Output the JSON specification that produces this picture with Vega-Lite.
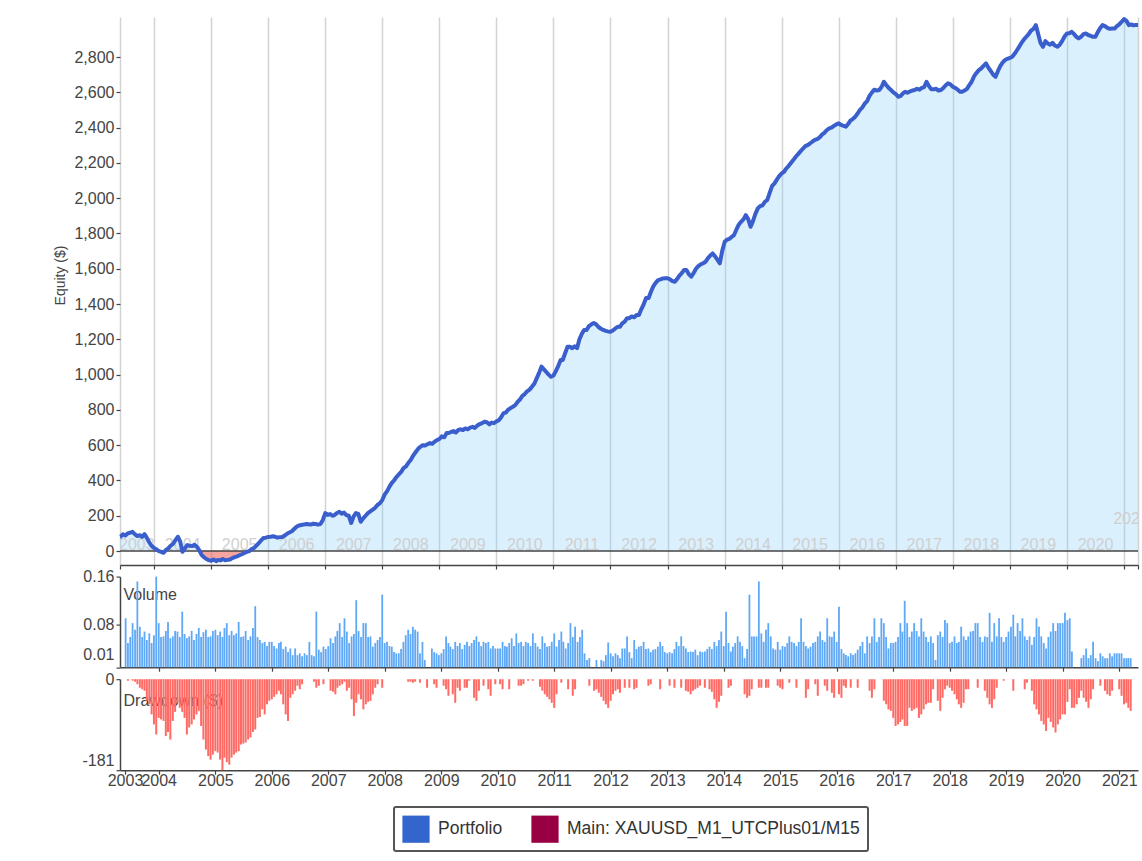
{
"$schema": "https://vega.github.io/schema/vega-lite/v6.json",
"padding": {"left": 53, "top": 17, "right": 4, "bottom": 4},
"background": "white",
"spacing": 11.6,
"bounds": "flush",
"config": {
 "font": "Liberation Sans",
 "view": {"stroke": null},
 "axis": {"labelFont": "Liberation Sans", "labelFontSize": 16, "labelColor": "#444444", "titleFont": "Liberation Sans", "titleColor": "#444444", "titleFontWeight": "normal", "tickColor": "#444444", "domainColor": "#444444", "domainWidth": 1.5, "tickWidth": 1.2, "tickSize": 4, "labelPadding": 2, "grid": false, "labelOverlap": false},
 "legend": {"strokeWidth": 2}
},
"datasets": {
"yl": [
{"d":"2003-09-13","t":"2003"},{"d":"2004-07-02","t":"2004"},{"d":"2005-07-02","t":"2005"},{"d":"2006-07-02","t":"2006"},{"d":"2007-07-02","t":"2007"},{"d":"2008-07-02","t":"2008"},{"d":"2009-07-02","t":"2009"},{"d":"2010-07-02","t":"2010"},{"d":"2011-07-02","t":"2011"},{"d":"2012-07-02","t":"2012"},{"d":"2013-07-02","t":"2013"},{"d":"2014-07-02","t":"2014"},{"d":"2015-07-02","t":"2015"},{"d":"2016-07-02","t":"2016"},{"d":"2017-07-02","t":"2017"},{"d":"2018-07-02","t":"2018"},{"d":"2019-07-02","t":"2019"},{"d":"2020-07-02","t":"2020"},{"d":"2021-02-14","t":"2021"}
],
"s": [
{"d":"2003-05-28","e":81,"v":null,"dd":null},
{"d":"2003-06-01","e":82,"v":0.091,"dd":null},
{"d":"2003-06-16","e":95,"v":0.05,"dd":-3},
{"d":"2003-07-01","e":88,"v":0.06,"dd":null},
{"d":"2003-07-16","e":100,"v":0.083,"dd":-3},
{"d":"2003-08-01","e":104,"v":0.072,"dd":-5},
{"d":"2003-08-16","e":109,"v":0.152,"dd":-10},
{"d":"2003-09-01","e":95,"v":0.077,"dd":-17},
{"d":"2003-09-16","e":85,"v":0.06,"dd":-20},
{"d":"2003-10-01","e":90,"v":0.069,"dd":-23},
{"d":"2003-10-16","e":80,"v":0.055,"dd":-43},
{"d":"2003-11-01","e":96,"v":0.066,"dd":-50},
{"d":"2003-11-16","e":75,"v":0.05,"dd":-70},
{"d":"2003-12-01","e":50,"v":0.063,"dd":-90},
{"d":"2003-12-16","e":30,"v":0.16,"dd":-110},
{"d":"2004-01-01","e":17,"v":0.083,"dd":-77},
{"d":"2004-01-16","e":10,"v":0.06,"dd":-80},
{"d":"2004-02-01","e":0,"v":0.061,"dd":-83},
{"d":"2004-02-16","e":-5,"v":0.07,"dd":-113},
{"d":"2004-03-01","e":-10,"v":0.085,"dd":-105},
{"d":"2004-03-16","e":5,"v":0.058,"dd":-120},
{"d":"2004-04-01","e":15,"v":0.061,"dd":-83},
{"d":"2004-04-16","e":30,"v":0.07,"dd":-65},
{"d":"2004-05-01","e":40,"v":0.069,"dd":-47},
{"d":"2004-05-16","e":60,"v":0.06,"dd":-57},
{"d":"2004-06-01","e":81,"v":0.102,"dd":-65},
{"d":"2004-06-16","e":55,"v":0.065,"dd":-77},
{"d":"2004-07-01","e":-4,"v":0.058,"dd":-110},
{"d":"2004-07-16","e":15,"v":0.061,"dd":-96},
{"d":"2004-08-01","e":34,"v":0.07,"dd":-90},
{"d":"2004-08-16","e":30,"v":0.055,"dd":-80},
{"d":"2004-09-01","e":28,"v":0.065,"dd":-70},
{"d":"2004-09-16","e":35,"v":0.075,"dd":-63},
{"d":"2004-10-01","e":24,"v":0.06,"dd":-93},
{"d":"2004-10-16","e":5,"v":0.068,"dd":-120},
{"d":"2004-11-01","e":-23,"v":0.072,"dd":-140},
{"d":"2004-11-16","e":-35,"v":0.06,"dd":-153},
{"d":"2004-12-01","e":-45,"v":0.061,"dd":-160},
{"d":"2004-12-16","e":-51,"v":0.07,"dd":-150},
{"d":"2005-01-01","e":-55,"v":0.072,"dd":-143},
{"d":"2005-01-16","e":-48,"v":0.063,"dd":-146},
{"d":"2005-02-01","e":-57,"v":0.069,"dd":-160},
{"d":"2005-02-16","e":-50,"v":0.06,"dd":-181},
{"d":"2005-03-01","e":-53,"v":0.075,"dd":-156},
{"d":"2005-03-16","e":-45,"v":0.083,"dd":-165},
{"d":"2005-04-01","e":-52,"v":0.063,"dd":-170},
{"d":"2005-04-16","e":-50,"v":0.07,"dd":-156},
{"d":"2005-05-01","e":-48,"v":0.063,"dd":-150},
{"d":"2005-05-16","e":-40,"v":0.066,"dd":-146},
{"d":"2005-06-01","e":-34,"v":0.085,"dd":-143},
{"d":"2005-06-16","e":-30,"v":0.06,"dd":-130},
{"d":"2005-07-01","e":-24,"v":0.061,"dd":-128},
{"d":"2005-07-16","e":-18,"v":0.07,"dd":-126},
{"d":"2005-08-01","e":-11,"v":0.055,"dd":-120},
{"d":"2005-08-16","e":-5,"v":0.061,"dd":-116},
{"d":"2005-09-01","e":0,"v":0.075,"dd":-105},
{"d":"2005-09-16","e":10,"v":0.111,"dd":-100},
{"d":"2005-10-01","e":17,"v":0.06,"dd":-77},
{"d":"2005-10-16","e":30,"v":0.055,"dd":-75},
{"d":"2005-11-01","e":45,"v":0.05,"dd":-60},
{"d":"2005-11-16","e":60,"v":0.052,"dd":-70},
{"d":"2005-12-01","e":74,"v":0.045,"dd":-50},
{"d":"2005-12-16","e":76,"v":0.052,"dd":-43},
{"d":"2006-01-01","e":80,"v":0.052,"dd":-40},
{"d":"2006-01-16","e":81,"v":0.045,"dd":-35},
{"d":"2006-02-01","e":84,"v":0.041,"dd":-30},
{"d":"2006-02-16","e":80,"v":0.05,"dd":-23},
{"d":"2006-03-01","e":76,"v":0.052,"dd":-30},
{"d":"2006-03-16","e":79,"v":0.04,"dd":-50},
{"d":"2006-04-01","e":80,"v":0.044,"dd":-70},
{"d":"2006-04-16","e":88,"v":0.035,"dd":-83},
{"d":"2006-05-01","e":98,"v":0.041,"dd":-37},
{"d":"2006-05-16","e":105,"v":0.03,"dd":-30},
{"d":"2006-06-01","e":112,"v":0.041,"dd":-23},
{"d":"2006-06-16","e":125,"v":0.03,"dd":-13},
{"d":"2006-07-01","e":138,"v":0.033,"dd":-20},
{"d":"2006-07-16","e":145,"v":0.028,"dd":-10},
{"d":"2006-08-01","e":148,"v":0.033,"dd":null},
{"d":"2006-08-16","e":150,"v":0.03,"dd":null},
{"d":"2006-09-01","e":153,"v":0.052,"dd":null},
{"d":"2006-09-16","e":152,"v":0.03,"dd":null},
{"d":"2006-10-01","e":150,"v":0.028,"dd":-5},
{"d":"2006-10-16","e":155,"v":0.102,"dd":-17},
{"d":"2006-11-01","e":153,"v":0.039,"dd":-13},
{"d":"2006-11-16","e":150,"v":0.035,"dd":null},
{"d":"2006-12-01","e":153,"v":0.044,"dd":-10},
{"d":"2006-12-16","e":175,"v":0.04,"dd":null},
{"d":"2007-01-01","e":215,"v":0.045,"dd":null},
{"d":"2007-01-16","e":205,"v":0.058,"dd":-23},
{"d":"2007-02-01","e":210,"v":0.05,"dd":-25},
{"d":"2007-02-16","e":200,"v":0.061,"dd":-30},
{"d":"2007-03-01","e":204,"v":0.07,"dd":-17},
{"d":"2007-03-16","e":215,"v":0.083,"dd":-13},
{"d":"2007-04-01","e":223,"v":0.06,"dd":-10},
{"d":"2007-04-16","e":212,"v":0.091,"dd":-5},
{"d":"2007-05-01","e":218,"v":0.069,"dd":-23},
{"d":"2007-05-16","e":204,"v":0.05,"dd":-17},
{"d":"2007-06-01","e":200,"v":0.061,"dd":-40},
{"d":"2007-06-16","e":159,"v":0.065,"dd":-73},
{"d":"2007-07-01","e":195,"v":0.121,"dd":-47},
{"d":"2007-07-16","e":215,"v":0.07,"dd":-30},
{"d":"2007-08-01","e":210,"v":0.06,"dd":-40},
{"d":"2007-08-16","e":166,"v":0.083,"dd":-60},
{"d":"2007-09-01","e":185,"v":0.083,"dd":-50},
{"d":"2007-09-16","e":200,"v":0.06,"dd":-45},
{"d":"2007-10-01","e":215,"v":0.061,"dd":-43},
{"d":"2007-10-16","e":225,"v":0.044,"dd":-30},
{"d":"2007-11-01","e":235,"v":0.05,"dd":-17},
{"d":"2007-11-16","e":245,"v":0.055,"dd":-10},
{"d":"2007-12-01","e":261,"v":0.06,"dd":null},
{"d":"2007-12-16","e":270,"v":0.13,"dd":-17},
{"d":"2008-01-01","e":289,"v":0.05,"dd":null},
{"d":"2008-01-16","e":320,"v":0.052,"dd":null},
{"d":"2008-02-01","e":340,"v":0.045,"dd":null},
{"d":"2008-02-16","e":365,"v":0.044,"dd":null},
{"d":"2008-03-01","e":385,"v":0.035,"dd":null},
{"d":"2008-03-16","e":400,"v":0.033,"dd":null},
{"d":"2008-04-01","e":420,"v":0.033,"dd":null},
{"d":"2008-04-16","e":435,"v":0.04,"dd":null},
{"d":"2008-05-01","e":449,"v":0.052,"dd":null},
{"d":"2008-05-16","e":470,"v":0.063,"dd":null},
{"d":"2008-06-01","e":480,"v":0.072,"dd":-5},
{"d":"2008-06-16","e":500,"v":0.065,"dd":-5},
{"d":"2008-07-01","e":516,"v":0.077,"dd":-7},
{"d":"2008-07-16","e":540,"v":0.072,"dd":-5},
{"d":"2008-08-01","e":560,"v":0.069,"dd":null},
{"d":"2008-08-16","e":578,"v":0.033,"dd":-7},
{"d":"2008-09-01","e":591,"v":0.052,"dd":null},
{"d":"2008-09-16","e":600,"v":0.022,"dd":null},
{"d":"2008-10-01","e":598,"v":null,"dd":-17},
{"d":"2008-10-16","e":605,"v":null,"dd":null},
{"d":"2008-11-01","e":612,"v":0.041,"dd":null},
{"d":"2008-11-16","e":608,"v":0.035,"dd":-10},
{"d":"2008-12-01","e":620,"v":0.033,"dd":-17},
{"d":"2008-12-16","e":629,"v":0.03,"dd":null},
{"d":"2009-01-01","e":635,"v":0.033,"dd":null},
{"d":"2009-01-16","e":650,"v":0.04,"dd":-13},
{"d":"2009-02-01","e":645,"v":0.061,"dd":-20},
{"d":"2009-02-16","e":669,"v":0.05,"dd":-33},
{"d":"2009-03-01","e":669,"v":0.044,"dd":null},
{"d":"2009-03-16","e":675,"v":0.04,"dd":-30},
{"d":"2009-04-01","e":680,"v":0.052,"dd":-47},
{"d":"2009-04-16","e":672,"v":0.045,"dd":-17},
{"d":"2009-05-01","e":686,"v":0.05,"dd":-23},
{"d":"2009-05-16","e":690,"v":0.04,"dd":null},
{"d":"2009-06-01","e":686,"v":0.047,"dd":-17},
{"d":"2009-06-16","e":695,"v":0.052,"dd":-17},
{"d":"2009-07-01","e":690,"v":0.045,"dd":-3},
{"d":"2009-07-16","e":700,"v":0.05,"dd":null},
{"d":"2009-08-01","e":704,"v":0.055,"dd":-37},
{"d":"2009-08-16","e":698,"v":0.061,"dd":-43},
{"d":"2009-09-01","e":712,"v":0.052,"dd":-23},
{"d":"2009-09-16","e":720,"v":0.045,"dd":null},
{"d":"2009-10-01","e":725,"v":0.052,"dd":-13},
{"d":"2009-10-16","e":733,"v":0.05,"dd":null},
{"d":"2009-11-01","e":730,"v":0.052,"dd":-20},
{"d":"2009-11-16","e":718,"v":0.041,"dd":-33},
{"d":"2009-12-01","e":728,"v":0.045,"dd":null},
{"d":"2009-12-16","e":725,"v":0.041,"dd":-10},
{"d":"2010-01-01","e":735,"v":0.041,"dd":null},
{"d":"2010-01-16","e":742,"v":0.041,"dd":-10},
{"d":"2010-02-01","e":760,"v":0.052,"dd":-20},
{"d":"2010-02-16","e":782,"v":0.045,"dd":null},
{"d":"2010-03-01","e":785,"v":0.044,"dd":null},
{"d":"2010-03-16","e":800,"v":0.05,"dd":-20},
{"d":"2010-04-01","e":810,"v":0.058,"dd":null},
{"d":"2010-04-16","e":818,"v":0.045,"dd":null},
{"d":"2010-05-01","e":827,"v":0.066,"dd":null},
{"d":"2010-05-16","e":845,"v":0.05,"dd":-13},
{"d":"2010-06-01","e":860,"v":0.052,"dd":-13},
{"d":"2010-06-16","e":880,"v":0.045,"dd":-10},
{"d":"2010-07-01","e":890,"v":0.052,"dd":null},
{"d":"2010-07-16","e":905,"v":0.05,"dd":-3},
{"d":"2010-08-01","e":915,"v":0.045,"dd":null},
{"d":"2010-08-16","e":931,"v":0.066,"dd":-3},
{"d":"2010-09-01","e":950,"v":0.05,"dd":null},
{"d":"2010-09-16","e":980,"v":0.044,"dd":null},
{"d":"2010-10-01","e":1010,"v":0.04,"dd":-15},
{"d":"2010-10-16","e":1045,"v":0.061,"dd":-23},
{"d":"2010-11-01","e":1030,"v":0.05,"dd":-30},
{"d":"2010-11-16","e":1015,"v":0.044,"dd":-35},
{"d":"2010-12-01","e":1000,"v":0.045,"dd":-40},
{"d":"2010-12-16","e":988,"v":0.052,"dd":-47},
{"d":"2011-01-01","e":995,"v":0.066,"dd":-57},
{"d":"2011-01-16","e":1020,"v":0.044,"dd":-30},
{"d":"2011-02-01","e":1050,"v":0.055,"dd":null},
{"d":"2011-02-16","e":1083,"v":0.069,"dd":-7},
{"d":"2011-03-01","e":1083,"v":0.052,"dd":null},
{"d":"2011-03-16","e":1120,"v":0.041,"dd":null},
{"d":"2011-04-01","e":1158,"v":0.05,"dd":-20},
{"d":"2011-04-16","e":1158,"v":0.083,"dd":null},
{"d":"2011-05-01","e":1150,"v":0.06,"dd":-33},
{"d":"2011-05-16","e":1160,"v":0.077,"dd":-20},
{"d":"2011-06-01","e":1150,"v":0.052,"dd":null},
{"d":"2011-06-16","e":1200,"v":0.06,"dd":null},
{"d":"2011-07-01","e":1230,"v":0.072,"dd":null},
{"d":"2011-07-16","e":1253,"v":0.033,"dd":null},
{"d":"2011-08-01","e":1253,"v":0.022,"dd":null},
{"d":"2011-08-16","e":1275,"v":0.025,"dd":-13},
{"d":"2011-09-01","e":1285,"v":null,"dd":null},
{"d":"2011-09-16","e":1292,"v":null,"dd":-23},
{"d":"2011-10-01","e":1285,"v":0.022,"dd":-20},
{"d":"2011-10-16","e":1270,"v":null,"dd":-27},
{"d":"2011-11-01","e":1260,"v":0.022,"dd":-35},
{"d":"2011-11-16","e":1253,"v":0.02,"dd":-43},
{"d":"2011-12-01","e":1248,"v":0.03,"dd":-50},
{"d":"2011-12-16","e":1245,"v":0.051,"dd":-57},
{"d":"2012-01-01","e":1243,"v":0.033,"dd":-43},
{"d":"2012-01-16","e":1250,"v":0.028,"dd":-30},
{"d":"2012-02-01","e":1262,"v":0.033,"dd":-23},
{"d":"2012-02-16","e":1271,"v":0.03,"dd":-20},
{"d":"2012-03-01","e":1271,"v":0.025,"dd":-27},
{"d":"2012-03-16","e":1290,"v":0.041,"dd":null},
{"d":"2012-04-01","e":1300,"v":0.041,"dd":-17},
{"d":"2012-04-16","e":1320,"v":0.061,"dd":null},
{"d":"2012-05-01","e":1320,"v":0.035,"dd":-17},
{"d":"2012-05-16","e":1330,"v":0.025,"dd":null},
{"d":"2012-06-01","e":1325,"v":0.055,"dd":-20},
{"d":"2012-06-16","e":1338,"v":0.04,"dd":-17},
{"d":"2012-07-01","e":1338,"v":0.044,"dd":null},
{"d":"2012-07-16","e":1370,"v":0.045,"dd":null},
{"d":"2012-08-01","e":1400,"v":0.052,"dd":null},
{"d":"2012-08-16","e":1434,"v":0.04,"dd":null},
{"d":"2012-09-01","e":1434,"v":0.041,"dd":-13},
{"d":"2012-09-16","e":1470,"v":0.035,"dd":-10},
{"d":"2012-10-01","e":1500,"v":0.039,"dd":null},
{"d":"2012-10-16","e":1520,"v":0.04,"dd":null},
{"d":"2012-11-01","e":1536,"v":0.044,"dd":null},
{"d":"2012-11-16","e":1540,"v":0.052,"dd":-20},
{"d":"2012-12-01","e":1545,"v":0.045,"dd":null},
{"d":"2012-12-16","e":1546,"v":0.035,"dd":null},
{"d":"2013-01-01","e":1546,"v":0.033,"dd":null},
{"d":"2013-01-16","e":1540,"v":0.035,"dd":-13},
{"d":"2013-02-01","e":1530,"v":0.033,"dd":null},
{"d":"2013-02-16","e":1526,"v":0.04,"dd":-17},
{"d":"2013-03-01","e":1540,"v":0.052,"dd":null},
{"d":"2013-03-16","e":1560,"v":0.045,"dd":null},
{"d":"2013-04-01","e":1575,"v":0.061,"dd":-17},
{"d":"2013-04-16","e":1593,"v":0.045,"dd":null},
{"d":"2013-05-01","e":1593,"v":0.041,"dd":-23},
{"d":"2013-05-16","e":1570,"v":0.035,"dd":-25},
{"d":"2013-06-01","e":1555,"v":0.036,"dd":-30},
{"d":"2013-06-16","e":1575,"v":0.035,"dd":-23},
{"d":"2013-07-01","e":1600,"v":0.039,"dd":-20},
{"d":"2013-07-16","e":1615,"v":0.03,"dd":-17},
{"d":"2013-08-01","e":1625,"v":0.036,"dd":-13},
{"d":"2013-08-16","e":1631,"v":0.035,"dd":null},
{"d":"2013-09-01","e":1640,"v":0.036,"dd":-17},
{"d":"2013-09-16","e":1660,"v":0.04,"dd":null},
{"d":"2013-10-01","e":1675,"v":0.044,"dd":-20},
{"d":"2013-10-16","e":1687,"v":0.04,"dd":-25},
{"d":"2013-11-01","e":1670,"v":0.052,"dd":-40},
{"d":"2013-11-16","e":1650,"v":0.045,"dd":-57},
{"d":"2013-12-01","e":1631,"v":0.055,"dd":-45},
{"d":"2013-12-16","e":1700,"v":0.069,"dd":-33},
{"d":"2014-01-01","e":1753,"v":0.045,"dd":null},
{"d":"2014-01-16","e":1765,"v":0.102,"dd":null},
{"d":"2014-02-01","e":1770,"v":0.05,"dd":-17},
{"d":"2014-02-16","e":1782,"v":0.036,"dd":-13},
{"d":"2014-03-01","e":1790,"v":0.044,"dd":null},
{"d":"2014-03-16","e":1820,"v":0.05,"dd":null},
{"d":"2014-04-01","e":1850,"v":0.061,"dd":null},
{"d":"2014-04-16","e":1866,"v":0.052,"dd":null},
{"d":"2014-05-01","e":1880,"v":0.045,"dd":null},
{"d":"2014-05-16","e":1904,"v":0.025,"dd":-30},
{"d":"2014-06-01","e":1880,"v":0.04,"dd":-37},
{"d":"2014-06-16","e":1838,"v":0.13,"dd":-33},
{"d":"2014-07-01","e":1870,"v":0.061,"dd":-20},
{"d":"2014-07-16","e":1910,"v":0.061,"dd":null},
{"d":"2014-08-01","e":1942,"v":0.061,"dd":null},
{"d":"2014-08-16","e":1955,"v":0.152,"dd":-17},
{"d":"2014-09-01","e":1960,"v":0.066,"dd":-17},
{"d":"2014-09-16","e":1980,"v":0.052,"dd":null},
{"d":"2014-10-01","e":1990,"v":0.072,"dd":-17},
{"d":"2014-10-16","e":2030,"v":0.083,"dd":-17},
{"d":"2014-11-01","e":2070,"v":0.061,"dd":null},
{"d":"2014-11-16","e":2084,"v":0.041,"dd":null},
{"d":"2014-12-01","e":2105,"v":0.039,"dd":null},
{"d":"2014-12-16","e":2125,"v":0.052,"dd":-13},
{"d":"2015-01-01","e":2141,"v":0.039,"dd":-17},
{"d":"2015-01-16","e":2150,"v":0.045,"dd":-20},
{"d":"2015-02-01","e":2170,"v":0.044,"dd":null},
{"d":"2015-02-16","e":2185,"v":0.05,"dd":null},
{"d":"2015-03-01","e":2200,"v":0.061,"dd":-7},
{"d":"2015-03-16","e":2216,"v":0.052,"dd":null},
{"d":"2015-04-01","e":2235,"v":0.05,"dd":null},
{"d":"2015-04-16","e":2250,"v":0.045,"dd":-17},
{"d":"2015-05-01","e":2265,"v":0.052,"dd":null},
{"d":"2015-05-16","e":2280,"v":0.091,"dd":null},
{"d":"2015-06-01","e":2295,"v":0.052,"dd":null},
{"d":"2015-06-16","e":2301,"v":0.045,"dd":-37},
{"d":"2015-07-01","e":2310,"v":0.041,"dd":-20},
{"d":"2015-07-16","e":2320,"v":0.044,"dd":null},
{"d":"2015-08-01","e":2330,"v":0.05,"dd":null},
{"d":"2015-08-16","e":2335,"v":0.052,"dd":-10},
{"d":"2015-09-01","e":2345,"v":0.061,"dd":-33},
{"d":"2015-09-16","e":2360,"v":0.069,"dd":null},
{"d":"2015-10-01","e":2370,"v":0.055,"dd":null},
{"d":"2015-10-16","e":2385,"v":0.052,"dd":-13},
{"d":"2015-11-01","e":2396,"v":0.091,"dd":-23},
{"d":"2015-11-16","e":2400,"v":0.061,"dd":null},
{"d":"2015-12-01","e":2410,"v":0.06,"dd":-27},
{"d":"2015-12-16","e":2418,"v":0.069,"dd":-37},
{"d":"2016-01-01","e":2424,"v":0.052,"dd":null},
{"d":"2016-01-16","e":2415,"v":0.11,"dd":-30},
{"d":"2016-02-01","e":2410,"v":0.04,"dd":-37},
{"d":"2016-02-16","e":2405,"v":0.033,"dd":-13},
{"d":"2016-03-01","e":2420,"v":0.03,"dd":-17},
{"d":"2016-03-16","e":2440,"v":0.028,"dd":null},
{"d":"2016-04-01","e":2450,"v":0.033,"dd":-17},
{"d":"2016-04-16","e":2462,"v":0.03,"dd":null},
{"d":"2016-05-01","e":2480,"v":0.033,"dd":null},
{"d":"2016-05-16","e":2500,"v":0.039,"dd":-17},
{"d":"2016-06-01","e":2515,"v":0.045,"dd":null},
{"d":"2016-06-16","e":2537,"v":0.052,"dd":null},
{"d":"2016-07-01","e":2550,"v":0.033,"dd":null},
{"d":"2016-07-16","e":2580,"v":0.061,"dd":null},
{"d":"2016-08-01","e":2600,"v":0.05,"dd":-23},
{"d":"2016-08-16","e":2615,"v":0.061,"dd":-37},
{"d":"2016-09-01","e":2610,"v":0.091,"dd":-20},
{"d":"2016-09-16","e":2613,"v":0.052,"dd":null},
{"d":"2016-10-01","e":2630,"v":0.06,"dd":null},
{"d":"2016-10-16","e":2660,"v":0.091,"dd":null},
{"d":"2016-11-01","e":2640,"v":0.083,"dd":-43},
{"d":"2016-11-16","e":2625,"v":0.06,"dd":-50},
{"d":"2016-12-01","e":2613,"v":0.041,"dd":-60},
{"d":"2016-12-16","e":2600,"v":0.05,"dd":-63},
{"d":"2017-01-01","e":2590,"v":0.05,"dd":-77},
{"d":"2017-01-16","e":2575,"v":0.052,"dd":-93},
{"d":"2017-02-01","e":2580,"v":0.06,"dd":-90},
{"d":"2017-02-16","e":2595,"v":0.083,"dd":-85},
{"d":"2017-03-01","e":2603,"v":0.069,"dd":-80},
{"d":"2017-03-16","e":2598,"v":0.12,"dd":-93},
{"d":"2017-04-01","e":2605,"v":0.083,"dd":-93},
{"d":"2017-04-16","e":2610,"v":0.06,"dd":-57},
{"d":"2017-05-01","e":2613,"v":0.069,"dd":-63},
{"d":"2017-05-16","e":2620,"v":0.083,"dd":-60},
{"d":"2017-06-01","e":2615,"v":0.07,"dd":-57},
{"d":"2017-06-16","e":2625,"v":0.061,"dd":-77},
{"d":"2017-07-01","e":2630,"v":0.091,"dd":-70},
{"d":"2017-07-16","e":2660,"v":0.069,"dd":-60},
{"d":"2017-08-01","e":2635,"v":0.06,"dd":-50},
{"d":"2017-08-16","e":2617,"v":0.052,"dd":-47},
{"d":"2017-09-01","e":2617,"v":0.061,"dd":-47},
{"d":"2017-09-16","e":2620,"v":0.05,"dd":-20},
{"d":"2017-10-01","e":2610,"v":0.022,"dd":null},
{"d":"2017-10-16","e":2613,"v":0.063,"dd":-43},
{"d":"2017-11-01","e":2625,"v":0.069,"dd":-63},
{"d":"2017-11-16","e":2640,"v":0.06,"dd":-37},
{"d":"2017-12-01","e":2651,"v":0.088,"dd":-20},
{"d":"2017-12-16","e":2645,"v":0.083,"dd":-13},
{"d":"2018-01-01","e":2632,"v":0.05,"dd":-17},
{"d":"2018-01-16","e":2625,"v":0.052,"dd":-23},
{"d":"2018-02-01","e":2615,"v":0.061,"dd":-30},
{"d":"2018-02-16","e":2603,"v":0.05,"dd":-40},
{"d":"2018-03-01","e":2603,"v":0.052,"dd":-50},
{"d":"2018-03-16","e":2610,"v":0.077,"dd":-57},
{"d":"2018-04-01","e":2620,"v":0.061,"dd":-47},
{"d":"2018-04-16","e":2641,"v":0.055,"dd":-20},
{"d":"2018-05-01","e":2660,"v":0.061,"dd":-20},
{"d":"2018-05-16","e":2690,"v":0.069,"dd":null},
{"d":"2018-06-01","e":2710,"v":0.07,"dd":null},
{"d":"2018-06-16","e":2726,"v":0.083,"dd":null},
{"d":"2018-07-01","e":2735,"v":0.083,"dd":-17},
{"d":"2018-07-16","e":2750,"v":0.06,"dd":null},
{"d":"2018-08-01","e":2764,"v":0.052,"dd":null},
{"d":"2018-08-16","e":2740,"v":0.061,"dd":-23},
{"d":"2018-09-01","e":2720,"v":0.06,"dd":-37},
{"d":"2018-09-16","e":2700,"v":0.1,"dd":-50},
{"d":"2018-10-01","e":2688,"v":0.052,"dd":-57},
{"d":"2018-10-16","e":2720,"v":0.083,"dd":-40},
{"d":"2018-11-01","e":2750,"v":0.061,"dd":-17},
{"d":"2018-11-16","e":2770,"v":0.091,"dd":null},
{"d":"2018-12-01","e":2783,"v":0.06,"dd":null},
{"d":"2018-12-16","e":2790,"v":0.052,"dd":-3},
{"d":"2019-01-01","e":2795,"v":0.06,"dd":null},
{"d":"2019-01-16","e":2802,"v":0.069,"dd":null},
{"d":"2019-02-01","e":2820,"v":0.077,"dd":null},
{"d":"2019-02-16","e":2840,"v":0.097,"dd":-23},
{"d":"2019-03-01","e":2858,"v":0.061,"dd":null},
{"d":"2019-03-16","e":2880,"v":0.083,"dd":null},
{"d":"2019-04-01","e":2900,"v":0.07,"dd":null},
{"d":"2019-04-16","e":2915,"v":0.091,"dd":null},
{"d":"2019-05-01","e":2930,"v":0.061,"dd":-20},
{"d":"2019-05-16","e":2950,"v":0.055,"dd":-7},
{"d":"2019-06-01","e":2960,"v":0.061,"dd":null},
{"d":"2019-06-16","e":2981,"v":0.047,"dd":-23},
{"d":"2019-07-01","e":2930,"v":0.06,"dd":-50},
{"d":"2019-07-16","e":2880,"v":0.091,"dd":-60},
{"d":"2019-08-01","e":2858,"v":0.077,"dd":-70},
{"d":"2019-08-16","e":2890,"v":0.061,"dd":-83},
{"d":"2019-09-01","e":2877,"v":0.05,"dd":-90},
{"d":"2019-09-16","e":2870,"v":0.041,"dd":-103},
{"d":"2019-10-01","e":2880,"v":0.06,"dd":-77},
{"d":"2019-10-16","e":2865,"v":0.069,"dd":-85},
{"d":"2019-11-01","e":2858,"v":0.083,"dd":-96},
{"d":"2019-11-16","e":2870,"v":0.07,"dd":-106},
{"d":"2019-12-01","e":2890,"v":0.083,"dd":-90},
{"d":"2019-12-16","e":2915,"v":0.083,"dd":-80},
{"d":"2020-01-01","e":2934,"v":0.083,"dd":-70},
{"d":"2020-01-16","e":2935,"v":0.1,"dd":-70},
{"d":"2020-02-01","e":2943,"v":0.088,"dd":-45},
{"d":"2020-02-16","e":2930,"v":0.091,"dd":-20},
{"d":"2020-03-01","e":2915,"v":0.036,"dd":-57},
{"d":"2020-03-16","e":2906,"v":null,"dd":-57},
{"d":"2020-04-01","e":2915,"v":null,"dd":-50},
{"d":"2020-04-16","e":2930,"v":null,"dd":-37},
{"d":"2020-05-01","e":2934,"v":0.025,"dd":-23},
{"d":"2020-05-16","e":2925,"v":0.03,"dd":-37},
{"d":"2020-06-01","e":2920,"v":0.041,"dd":-45},
{"d":"2020-06-16","e":2915,"v":0.025,"dd":-57},
{"d":"2020-07-01","e":2915,"v":0.03,"dd":-40},
{"d":"2020-07-16","e":2940,"v":0.052,"dd":-20},
{"d":"2020-08-01","e":2965,"v":0.025,"dd":null},
{"d":"2020-08-16","e":2981,"v":0.02,"dd":null},
{"d":"2020-09-01","e":2975,"v":0.033,"dd":-13},
{"d":"2020-09-16","e":2965,"v":0.028,"dd":null},
{"d":"2020-10-01","e":2960,"v":0.025,"dd":-23},
{"d":"2020-10-16","e":2962,"v":0.025,"dd":-30},
{"d":"2020-11-01","e":2962,"v":0.033,"dd":-33},
{"d":"2020-11-16","e":2975,"v":0.028,"dd":-23},
{"d":"2020-12-01","e":2985,"v":0.033,"dd":null},
{"d":"2020-12-16","e":3000,"v":0.033,"dd":null},
{"d":"2021-01-01","e":3015,"v":0.033,"dd":-20},
{"d":"2021-01-16","e":3005,"v":0.033,"dd":-33},
{"d":"2021-02-01","e":2981,"v":0.025,"dd":-50},
{"d":"2021-02-16","e":2985,"v":0.025,"dd":-47},
{"d":"2021-03-01","e":2980,"v":0.025,"dd":-57},
{"d":"2021-03-16","e":2981,"v":0.025,"dd":-63},
{"d":"2021-03-31","e":2981,"v":null,"dd":null}
]
},
"vconcat": [
{
 "width": 1018, "height": 548,
 "layer": [
  {
   "data": {"name": "s"},
   "mark": {"type": "area", "fill": {"gradient": "linear", "x1": 0, "y1": 0, "x2": 0, "y2": 1, "stops": [{"offset": 0, "color": "rgba(135,206,250,0.3)"}, {"offset": 0.9815, "color": "rgba(135,206,250,0.3)"}, {"offset": 0.9815, "color": "rgba(240,90,80,0.55)"}, {"offset": 1, "color": "rgba(240,90,80,0.55)"}]}},
   "encoding": {
    "x": {"field": "d", "type": "temporal", "scale": {"type": "utc", "domain": [1054080000000, 1617148800000]}, "axis": {"title": null, "labels": false, "grid": true, "gridColor": "#d3d3d3", "gridWidth": 1.5, "tickCount": 40, "values": [1054080000000, 1072915200000, 1104537600000, 1136073600000, 1167609600000, 1199145600000, 1230768000000, 1262304000000, 1293840000000, 1325376000000, 1356998400000, 1388534400000, 1420070400000, 1451606400000, 1483228800000, 1514764800000, 1546300800000, 1577836800000, 1609459200000, 1617148800000]}},
    "y": {"field": "e", "type": "quantitative", "scale": {"domain": [-79, 3027], "nice": false, "zero": false}, "axis": {"title": "Equity ($)", "titleFontSize": 14, "titleX": -60, "titleY": 258, "titleBaseline": "middle", "domain": false, "grid": false, "labelOverlap": false, "format": ",d", "tickCount": 30, "values": [0, 200, 400, 600, 800, 1000, 1200, 1400, 1600, 1800, 2000, 2200, 2400, 2600, 2800]}},
    "y2": {"datum": 0}
   }
  },
  {
   "data": {"values": [{}]},
   "mark": {"type": "rule", "color": "#444444", "strokeWidth": 1.5},
   "encoding": {"y": {"datum": 0}}
  },
  {
   "data": {"name": "yl"},
   "transform": [{"filter": "datum.t != '2021'"}],
   "mark": {"type": "text", "fontSize": 16, "color": "#cfcfcf", "baseline": "alphabetic", "align": "center", "dy": -1, "clip": true, "font": "Liberation Sans"},
   "encoding": {
    "x": {"field": "d", "type": "temporal"},
    "y": {"datum": 0},
    "text": {"field": "t"}
   }
  },
  {
   "data": {"name": "yl"},
   "transform": [{"filter": "datum.t == '2021'"}],
   "mark": {"type": "text", "fontSize": 16, "color": "#cfcfcf", "baseline": "alphabetic", "align": "center", "dy": -1, "clip": true, "font": "Liberation Sans"},
   "encoding": {
    "x": {"field": "d", "type": "temporal"},
    "y": {"datum": 150},
    "text": {"field": "t"}
   }
  },
  {
   "data": {"name": "s"},
   "mark": {"type": "line", "color": "#3a5fcd", "strokeWidth": 4, "strokeJoin": "round"},
   "encoding": {
    "x": {"field": "d", "type": "temporal"},
    "y": {"field": "e", "type": "quantitative"}
   }
  },
  {
   "data": {"name": "s"},
   "mark": {"type": "square", "opacity": 0, "size": 1},
   "encoding": {
    "x": {"field": "d", "type": "temporal"},
    "y": {"field": "e", "type": "quantitative"},
    "color": {"datum": "Portfolio", "scale": {"domain": ["Portfolio", "Main: XAUUSD_M1_UTCPlus01/M15"], "range": ["#3366cc", "#990044"]}, "legend": {"orient": "none", "legendX": 274, "legendY": 790, "direction": "horizontal", "title": null, "symbolType": "square", "symbolSize": 740, "symbolOpacity": 1, "symbolStrokeWidth": 0, "labelFontSize": 17.5, "labelColor": "#333333", "labelFont": "Liberation Sans", "labelLimit": 400, "labelOffset": 8, "strokeColor": "#555555", "fillColor": "white", "padding": 8, "columnPadding": 28, "cornerRadius": 2}}
   }
  }
 ]
},
{
 "width": 1018, "height": 90.6,
 "data": {"name": "s"},
 "mark": {"type": "bar", "color": "#5fa8f6", "size": 1.8},
 "encoding": {
  "x": {"field": "d", "type": "temporal", "scale": {"type": "utc", "domain": [1054080000000, 1617148800000]}, "axis": {"title": null, "labels": false, "grid": false, "tickCount": 40, "values": [1072915200000, 1104537600000, 1136073600000, 1167609600000, 1199145600000, 1230768000000, 1262304000000, 1293840000000, 1325376000000, 1356998400000, 1388534400000, 1420070400000, 1451606400000, 1483228800000, 1514764800000, 1546300800000, 1577836800000, 1609459200000]}},
  "y": {"field": "v", "type": "quantitative", "scale": {"domain": [0.01, 0.16], "nice": false, "zero": false}, "axis": {"title": "Volume", "titleAngle": 0, "titleAlign": "left", "titleBaseline": "middle", "titleX": 3, "titleY": 18, "titleFontSize": 16, "format": ".2f", "tickCount": 10, "values": [0.01, 0.08, 0.16], "labelOffset": {"condition": {"test": "datum.value < 0.05", "value": -13}, "value": 0}}},
  "y2": {"datum": 0.01}
 }
},
{
 "width": 1018, "height": 91,
 "data": {"name": "s"},
 "mark": {"type": "bar", "color": "#ff6a64", "size": 2},
 "encoding": {
  "x": {"field": "d", "type": "temporal", "scale": {"type": "utc", "domain": [1054080000000, 1617148800000]}, "axis": {"title": null, "grid": false, "labelFlush": false, "labelOverlap": false, "labelPadding": -2, "tickCount": 40, "labelExpr": "utcFormat(datum.value, '%Y')", "values": [1054080000000, 1072915200000, 1104537600000, 1136073600000, 1167609600000, 1199145600000, 1230768000000, 1262304000000, 1293840000000, 1325376000000, 1356998400000, 1388534400000, 1420070400000, 1451606400000, 1483228800000, 1514764800000, 1546300800000, 1577836800000, 1609459200000]}},
  "y": {"field": "dd", "type": "quantitative", "scale": {"domain": [-181, 0], "nice": false, "zero": false}, "axis": {"title": "Drawdown ($)", "titleAngle": 0, "titleAlign": "left", "titleBaseline": "middle", "titleX": 3, "titleY": 21, "titleFontSize": 16, "tickCount": 10, "values": [-181, 0], "labelExpr": "datum.value < 0 ? '-181' : '0'", "labelOffset": {"condition": {"test": "datum.value < -100", "value": -10}, "value": 0}}},
  "y2": {"datum": 0}
 }
}
]
}
